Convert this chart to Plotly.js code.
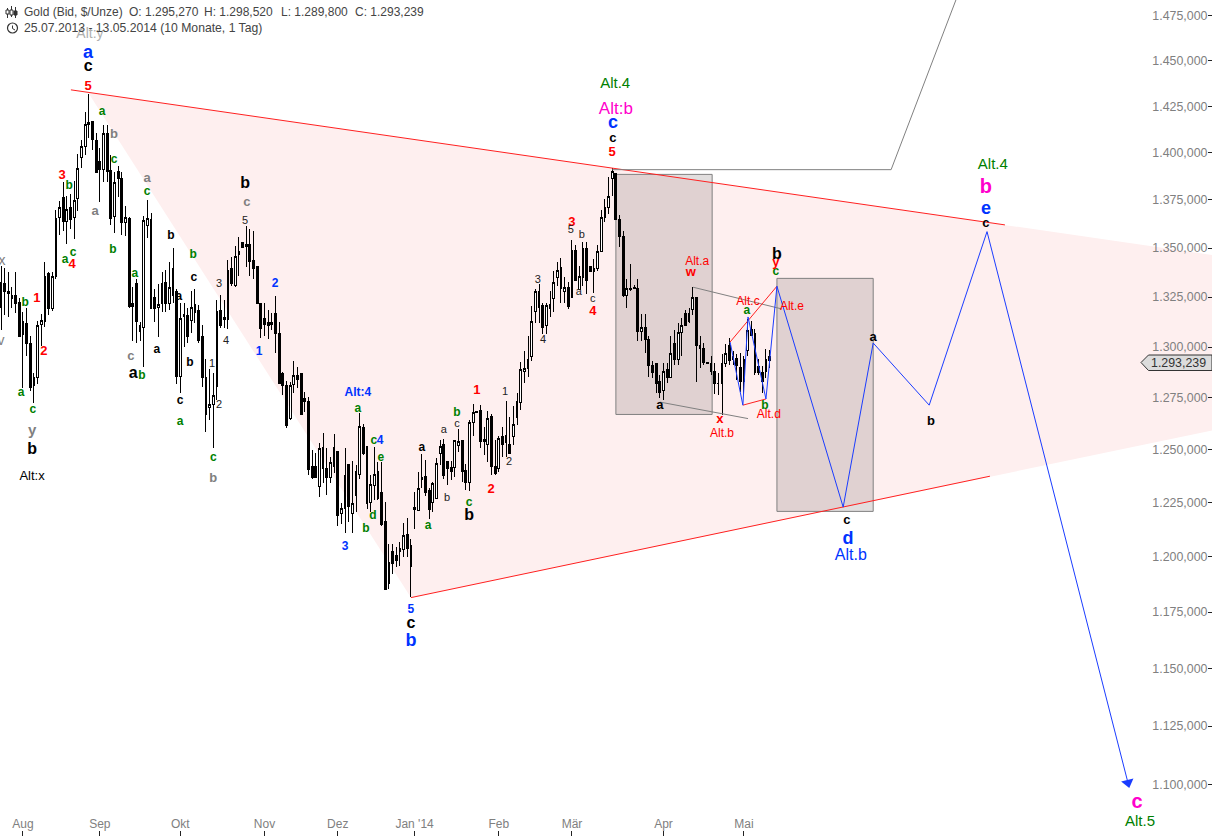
<!DOCTYPE html>
<html><head><meta charset="utf-8">
<script src="https://cdn.plot.ly/plotly-3.0.1.min.js"></script>
<style>html,body{margin:0;padding:0;background:#fff}#chart{width:1212px;height:836px}
#chart .boxlayer path{shape-rendering:crispEdges !important}</style>
</head><body><div id="chart"></div>
<script>
// Daily gold candles, one per trading day (x = bar index), prices in $/oz
const opens=[1320,1332,1328,1326,1326,1322.5,1306,1311.5,1302,1281,
1285,1311,1312.5,1337,1319.5,1335.5,1366,1376.5,1364,1371,
1366,1376,1397.5,1403.5,1415,1417,1406.5,1395.5,1391,1410.5,
1390.5,1366.5,1390,1386.5,1363.5,1365.5,1322,1332,1310.5,1309.5,
1361.5,1365,1325,1320,1322,1332.5,1322,1339.5,1328,1285.5,
1316,1315.5,1313,1321.5,1318,1305,1285,1270.5,1272,1280.5,
1318,1314.5,1313.5,1339.5,1331,1346.5,1353,1351,1352,1343.5,
1340.5,1322,1314,1312,1312,1316.5,1306.5,1287,1281,1265,
1281.5,1286,1287,1274.5,1273.5,1242,1242,1232.5,1251,1241,
1237,1242,1249,1220,1222.5,1243,1220,1228.5,1238.5,1260.5,
1251.5,1225,1233,1239.5,1230,1216.5,1188,1202.5,1200.5,1202.5,
1203.5,1210.5,1205,1223,1221.5,1237,1237.5,1231,1225,1227,
1248.5,1252.5,1244.5,1241.5,1241.5,1252,1254.5,1240,1234.5,1263,
1268.5,1269,1255,1252.5,1266,1242,1241,1256.5,1253.5,1252.5,
1256.5,1265.5,1273,1288,1289.5,1295.5,1317.5,1328,1321,1310.5,
1321.5,1324.5,1335,1340,1328,1330,1325,1349,1329,1335,
1350,1340.5,1338,1339.5,1348.5,1366,1371,1386.5,1389,1365,
1356,1326,1329.5,1330,1329.5,1307.5,1309.5,1303.5,1291,1292,
1283,1278.5,1289,1285,1302,1294,1307,1316.5,1312.5,1318.5,
1325,1301,1299.5,1292,1292,1288,1282,1282,1292,1301,
1295.5,1294.5,1290,1283,1298.5,1308.5,1306.5,1290.5,1287.5,1288,1295.27];
const highs=[1341,1340,1337.5,1330,1338,1324.5,1317.5,1319.5,1305.5,1287,
1313,1316.5,1343,1338,1337.5,1370,1374.5,1384.5,1377,1378,
1385,1399.5,1407,1422,1432,1417,1410.5,1402.5,1415,1415,
1399,1390,1393,1390,1372,1366,1330,1334,1312.5,1366.5,
1375,1368,1329,1331.5,1337.5,1339,1343,1350,1329,1322,
1322,1319.5,1328,1329,1321,1311,1294,1289,1287,1323.5,
1326,1323.5,1344,1345.5,1351,1355.5,1353,1361.5,1360,1359,
1340.5,1322,1322,1318.5,1317,1325.5,1312.5,1287.5,1283.5,1283,
1293,1290,1287,1278,1275.5,1250,1248.5,1253.5,1258,1251,
1246.5,1257.5,1249.5,1225,1251,1243,1244.5,1243,1267.5,1262.5,
1251.5,1238,1251.5,1244,1244,1225.5,1206,1206,1204.5,1207,
1215.5,1218,1208,1230,1239.5,1248,1245,1232,1235,1246,
1254.5,1255,1244.5,1244.5,1254.5,1260,1254.5,1243.5,1264.5,1272,
1268.5,1271.5,1261,1268.5,1267,1254.5,1256.5,1261,1273.5,1266,
1271,1277.5,1292.5,1298,1305.5,1320.5,1329,1331.5,1322,1322,
1328,1338.5,1343,1345,1335,1332.5,1354,1351.5,1341,1353,
1353,1340.5,1344.5,1351.5,1370,1375.5,1387,1392,1389,1367,
1359,1334,1342,1331,1334,1316.5,1316.5,1305.5,1293,1292,
1286,1292,1292,1305.5,1308.5,1312,1314.5,1318.5,1319.5,1330,
1325,1305.5,1302,1292.5,1295.5,1292,1287,1296.5,1301.5,1304.5,
1298,1296.5,1297,1295.5,1314,1313,1309,1294,1290.5,1299,1298.52];
const lows=[1308.3,1316,1315,1319.5,1317,1305,1280,1295.5,1278.5,1272.5,
1282,1300.5,1310,1316,1318,1334,1357,1359,1352,1360,
1354.5,1369,1392,1399,1408,1401.5,1389.5,1374,1384.5,1384.5,
1362,1358,1376.5,1357,1356,1319.5,1303,1302,1303,1290,
1355,1319.5,1312.5,1305,1317.5,1317.5,1318.5,1322,1282,1277.5,
1300,1302,1307,1312,1302,1280.5,1258.5,1264.5,1251,1274,
1309.5,1309.5,1309,1330.5,1330,1335.5,1350.5,1340.5,1335.5,1334,
1322,1304.5,1305.5,1304,1308.5,1297,1282,1276.5,1260.5,1264.5,
1277.5,1280,1267,1268,1238,1236,1237,1227.5,1234.5,1228.5,
1234.5,1239,1214,1215,1211,1216,1211,1220.5,1236,1247.5,
1222,1220.5,1226.5,1226.5,1214,1185,1185.5,1192,1195.5,1196,
1200,1200,1182,1213,1221.5,1232,1228,1217.5,1220.5,1227,
1243,1236,1233.5,1235.5,1237,1249,1235,1231,1230.5,1256.5,
1268,1251,1247.5,1244,1238,1238,1239.5,1246.5,1246.5,1248.5,
1252.5,1262,1269,1282.5,1285,1293,1312,1312,1306.5,1306.5,
1315,1317.5,1330.5,1322,1322,1319,1325,1333.5,1329,1330.5,
1326.5,1338,1327,1338.5,1348.5,1363.5,1367.5,1377,1365,1350.5,
1325,1319.5,1328,1329.5,1303,1303,1297,1285,1284.5,1277.5,
1275,1274,1282.5,1285,1291,1291,1295.5,1310.5,1312,1316,
1283,1289.5,1291,1292,1286,1277,1276.5,1266.5,1290,1291,
1291,1284,1278,1276.5,1295.5,1305.5,1286,1286,1277.5,1284.5,1289.8];
const closes=[1332.3,1328,1327,1324.5,1322,1305,1312.5,1302,1280,1285,
1310.5,1313,1335.5,1319.5,1335.5,1365.5,1371,1364,1370,1365,
1374.5,1391.5,1403.5,1415,1416,1407,1389.5,1391,1410.5,1390,
1365.5,1384,1386.5,1363.5,1366,1320.5,1320.5,1312.5,1307.5,1364.5,
1365.5,1319.5,1319.5,1321.5,1332,1322,1330,1326,1285.5,1314,
1315,1305,1320,1317,1303,1285,1267,1272,1276,1317.5,
1310.5,1313.5,1338.5,1332,1345.5,1348,1350.5,1352,1343,1339.5,
1322,1309,1311,1310.5,1311,1306.5,1282,1281,1261.5,1281,
1286,1284,1267,1273.5,1240.5,1237,1237,1250.5,1241,1237,
1244,1251,1219,1222.5,1238,1223.5,1224.5,1239.5,1261,1248.5,
1224.5,1233.5,1238.5,1227,1215,1185,1197.5,1197,1198.5,1204,
1210,1204,1195.5,1222,1231.5,1236,1230,1222,1234,1243.5,
1251.5,1238,1241,1239.5,1254.5,1254,1239.5,1234.5,1263,1268,
1268,1254,1254,1265,1242,1239,1255.5,1252.5,1257,1248.5,
1262,1273.5,1289,1289.5,1294,1312.5,1328,1320,1309.5,1321,
1319.5,1332.5,1338.5,1329.5,1330,1320.5,1349,1333.5,1335.5,1350,
1333.5,1338,1339.5,1348.5,1366,1371,1377,1390,1365,1356,
1326,1329.5,1329,1329.5,1307.5,1309.5,1303.5,1291,1287.5,1282,
1277.5,1288,1285,1297,1294,1307,1310.5,1310.5,1316.5,1325,
1301,1299.5,1292.5,1292.5,1288,1282,1282,1292,1297,1293.5,
1294,1291,1283,1294,1308,1305.5,1287.5,1287.5,1283,1294,1293.24];
const barIdx=opens.map((_,i)=>i);

const yTickVals=[1475,1450,1425,1400,1375,1350,1325,1300,1275,1250,1225,1200,1175,1150,1125,1100];
const yTickText=['1.475,000','1.450,000','1.425,000','1.400,000','1.375,000','1.350,000','1.325,000','1.300,000','1.275,000','1.250,000','1.225,000','1.200,000','1.175,000','1.150,000','1.125,000','1.100,000'];
const xTickVals=[6,27,49,72,92,113,136,156,181,203];
const xTickText=['Aug','Sep','Okt','Nov','Dez',"Jan '14",'Feb','Mär','Apr','Mai'];

// Trend lines and the projected wave path: [bar index, price]
const upperLine=[[19.1,1434],[274.3,1362]];
const lowerLine=[[112,1181.5],[270.2,1237.5]];
const grayTop=[[167,1391],[243.2,1391],[260.9,1484]];
const grayA=[[189.1,1330],[213.4,1319]];
const grayB=[[180,1273],[204.1,1265]];
const redC=[[199.2,1302.5],[212,1330.5]];
const redD=[[202.7,1271.5],[209,1274.5]];
const bluePath=[[199.2,1302.5],[202.7,1271.5],[204.1,1315],[209,1274.5],[212,1330.5],[230.1,1223],[238.3,1302],[253.6,1271.5],[269.4,1358.5],[307.9,1101]];
const wedge=[[23.8,1432.5],[330.87,1346.5],[330.87,1259.3],[112,1181.5]];
const boxA=[168,194.3,1267,1388.5];
const boxB=[212,238.3,1221,1334.5];

const green='#008000',red='#ff0000',blue='#0033ff',gray='#808080',black='#000000',mag='#ff00cc';
// Wave labels: [text, bar index, price], grouped by look
const labelGroups=[
 {c:green,s:12,w:700,r:[['a',27.6,1422.5],['c',30.9,1397],['c',39.9,1380],['b',18.6,1383],['c',19.7,1348],['a',17.5,1344.5],['b',30.6,1350],['a',36.6,1337.5],['b',52.5,1347],['b',6.6,1323],['a',5.5,1278],['c',8.7,1270],['b',38.5,1286.5],['a',48.9,1264],['c',58,1247],['a',97.5,1270.5],['c',101.9,1255],['e',103.8,1247],['d',101.6,1219.5],['b',99.7,1213.5],['b',124.6,1268.5],['a',116.7,1215],['c',127.9,1225.5],['a',203.8,1318.5],['c',211.7,1338.5],['b',208.7,1272]]},
 {c:red,s:13,w:700,r:[['5',23.8,1436.5],['3',16.7,1388.5],['4',19.4,1342],['1',9.8,1325],['2',11.7,1298.5],['1',130,1279],['2',133.9,1232],['3',156,1364],['4',161.7,1318.5],['5',167,1401],['w',188.5,1338],['y',211.7,1343],['x',196.4,1265]]},
 {c:gray,s:13,w:700,r:[['b',30.9,1410.5],['a',39.9,1387],['a',25.7,1369.5],['c',67.2,1374.5],['c',35.5,1296],['b',58,1237]]},
 {c:gray,s:15,w:700,r:[['y',8.5,1259.5]]},
 {c:gray,s:14,w:400,r:[['x',0.3,1344],['v',0,1303.5]]},
 {c:'#b0b0b0',s:14,w:400,r:[['Alt:y',24.3,1465.5]]},
 {c:black,s:12,w:700,r:[['b',46.4,1357],['c',52.7,1335.5],['a',48.6,1326],['a',42.6,1299.5],['b',51.6,1293],['c',48.9,1274],['a',115,1251.5]]},
 {c:black,s:16,w:700,r:[['c',23.8,1447.5],['b',66.7,1384],['b',8.5,1250.5],['a',36.1,1287.5],['c',112,1170.5],['b',127.9,1219.5],['b',212,1347]]},
 {c:black,s:13,w:700,r:[['c',167.2,1408.5],['a',180,1272],['a',238.3,1305.5],['c',231.1,1217.5],['b',254.1,1264],['c',269.1,1363.5]]},
 {c:'#222222',s:11,w:400,r:[['5',66.7,1364.5],['3',59.6,1332.5],['4',61.5,1303.5],['1',57.7,1292],['2',59.6,1272],['a',121,1260],['c',124.6,1263],['b',121.9,1228],['1',137.7,1278.5],['2',138.8,1245],['3',146.7,1334.5],['4',148.1,1304],['5',155.7,1360],['b',158.7,1357.5],['a',157.9,1328],['c',161.7,1324.5]]},
 {c:black,s:13,w:400,r:[['Alt:x',8.5,1238]]},
 {c:blue,s:12,w:700,r:[['2',74.9,1332.5],['1',70.5,1298.5],['Alt:4',97.5,1278],['4',103.6,1255],['3',94,1205],['5',112,1176.5]]},
 {c:blue,s:18,w:700,r:[['a',23.8,1455],['b',112,1162.5],['c',167.2,1416.5],['d',231.4,1208.5],['e',269.1,1371]]},
 {c:blue,s:16,w:400,r:[['Alt.b',232.2,1201]]},
 {c:green,s:15,w:400,r:[['Alt.4',167.8,1438],['Alt.4',271,1394],['Alt.5',311.2,1085]]},
 {c:mag,s:17,w:400,r:[['Alt:b',168,1424]]},
 {c:mag,s:20,w:700,r:[['b',269.1,1382],['c',310.4,1093]]},
 {c:red,s:12,w:400,r:[['Alt.a',190.2,1343.5],['Alt.c',204.1,1323.5],['Alt.e',216.1,1321],['Alt.d',209.8,1267.5],['Alt.b',197,1258.5]]}
];

const headerTexts=[['Gold (Bid, $/Unze)',22],['O: 1.295,270',127],['H: 1.298,520',202],['L: 1.289,800',279],['C: 1.293,239',353]];
const headerDate='25.07.2013 - 13.05.2014 (10 Monate, 1 Tag)';
const lastPriceText='1.293,239';

const FONT='"Liberation Sans", Arial, sans-serif';
const W=1212,H=836;
const fx=p=>p/W, fy=p=>1-p/H;
const labelNudge=0.99943; // text baseline correction on the log scale

function line(pts,color,width){
  return {type:'scatter',mode:'lines',x:pts.map(p=>p[0]),y:pts.map(p=>p[1]),
    line:{color:color,width:width},hoverinfo:'skip',showlegend:false};
}
const traces=[{
  type:'candlestick',x:barIdx,open:opens,high:highs,low:lows,close:closes,
  increasing:{line:{color:'#000',width:1},fillcolor:'#fff'},
  decreasing:{line:{color:'#000',width:1},fillcolor:'#000'},
  whiskerwidth:0,hoverinfo:'skip',showlegend:false
},
 line(upperLine,'#ff2020',1),line(lowerLine,'#ff2020',1),
 line(grayTop,'#808080',1),line(grayA,'#808080',1),line(grayB,'#808080',1),
 line(redC,'#ff2020',1),line(redD,'#ff2020',1),
 line(bluePath,'#1a3cff',1)
];
const end=bluePath[bluePath.length-1];
traces.push({type:'scatter',mode:'markers',x:[end[0]],y:[end[1]],
  marker:{symbol:'triangle-down',size:11,color:'#1a3cff',angle:-14},hoverinfo:'skip',showlegend:false});
labelGroups.forEach(g=>traces.push({
  type:'scatter',mode:'text',x:g.r.map(r=>r[1]),y:g.r.map(r=>r[2]*labelNudge),text:g.r.map(r=>r[0]),
  textposition:'middle center',textfont:{family:FONT,size:g.s,color:g.c,weight:g.w},
  hoverinfo:'skip',showlegend:false,cliponaxis:false
}));

const pathOf=pts=>'M '+pts.map(p=>p[0]+','+p[1]).join(' L ')+' Z';
const boxShape=b=>({type:'rect',layer:'below',xref:'x',yref:'y',x0:b[0],x1:b[1],y0:b[2],y1:b[3],
  fillcolor:'rgba(90,70,70,0.18)',line:{color:'#808080',width:1}});
const paperShape=(d,fill,col,w)=>({type:'path',xref:'paper',yref:'paper',path:d,fillcolor:fill||'rgba(0,0,0,0)',
  line:{color:col||'#333',width:w||1}});
const ppath=pts=>'M '+pts.map(p=>fx(p[0])+','+fy(p[1])).join(' L ');
const shapes=[
 {type:'path',layer:'below',xref:'x',yref:'y',path:pathOf(wedge),fillcolor:'#feefef',line:{width:0}},
 boxShape(boxA),boxShape(boxB),
 // last-price tag
 paperShape(ppath([[1141,362.5],[1148.5,355],[1212,355],[1212,370.5],[1148.5,370.5],[1141,362.5]]),'#dcdcdc','#333333',1),
 // header icons: mini candles and clock
 paperShape(ppath([[7.5,8],[7.5,18]])),paperShape(ppath([[11.5,6],[11.5,17]])),paperShape(ppath([[15.5,7],[15.5,18]])),
 {type:'rect',xref:'paper',yref:'paper',x0:fx(6),x1:fx(9),y0:fy(14),y1:fy(10),fillcolor:'#fff',line:{color:'#333',width:1}},
 {type:'rect',xref:'paper',yref:'paper',x0:fx(10),x1:fx(13),y0:fy(15),y1:fy(10),fillcolor:'#fff',line:{color:'#333',width:1}},
 {type:'rect',xref:'paper',yref:'paper',x0:fx(14),x1:fx(17),y0:fy(15),y1:fy(11),fillcolor:'#333',line:{color:'#333',width:1}},
 {type:'circle',xref:'paper',yref:'paper',x0:fx(7.5),x1:fx(17.5),y0:fy(33),y1:fy(23),line:{color:'#333',width:1.2}},
 paperShape(ppath([[12.5,25.5],[12.5,28.5],[15,30]]))
];
const annotations=headerTexts.map(h=>({xref:'paper',yref:'paper',x:fx(h[1]),y:fy(12),text:h[0],showarrow:false,
  xanchor:'left',yanchor:'middle',font:{family:FONT,size:12,color:'#444'}}));
annotations.push({xref:'paper',yref:'paper',x:fx(22),y:fy(28),text:headerDate,showarrow:false,xanchor:'left',yanchor:'middle',
  font:{family:FONT,size:12.2,color:'#444'}});
annotations.push({xref:'paper',yref:'paper',x:fx(1208),y:fy(362.5),text:lastPriceText,showarrow:false,xanchor:'right',yanchor:'middle',
  font:{family:FONT,size:12.4,color:'#333'}});

Plotly.newPlot('chart',traces,{
  width:W,height:H,margin:{l:0,r:0,t:0,b:0,pad:0},
  paper_bgcolor:'#fff',plot_bgcolor:'#fff',showlegend:false,hovermode:false,
  boxgap:0.3,
  xaxis:{type:'linear',range:[-0.273,330.87],rangeslider:{visible:false},showgrid:false,zeroline:false,showline:false,
    tickmode:'array',tickvals:xTickVals,ticktext:xTickText,ticks:'inside',ticklen:5,tickcolor:'#222',tickwidth:1,
    ticklabelposition:'inside',tickfont:{family:FONT,size:12,color:'#808080'},fixedrange:true},
  yaxis:{type:'log',range:[Math.log10(1078.8),Math.log10(1484)],side:'right',showgrid:false,zeroline:false,showline:false,
    tickmode:'array',tickvals:yTickVals,ticktext:yTickText,ticks:'inside',ticklen:4,tickcolor:'#222',tickwidth:1,
    ticklabelposition:'inside',tickfont:{family:FONT,size:12.4,color:'#808080'},fixedrange:true},
  shapes:shapes,annotations:annotations
},{displayModeBar:false,staticPlot:true});
</script></body></html>
